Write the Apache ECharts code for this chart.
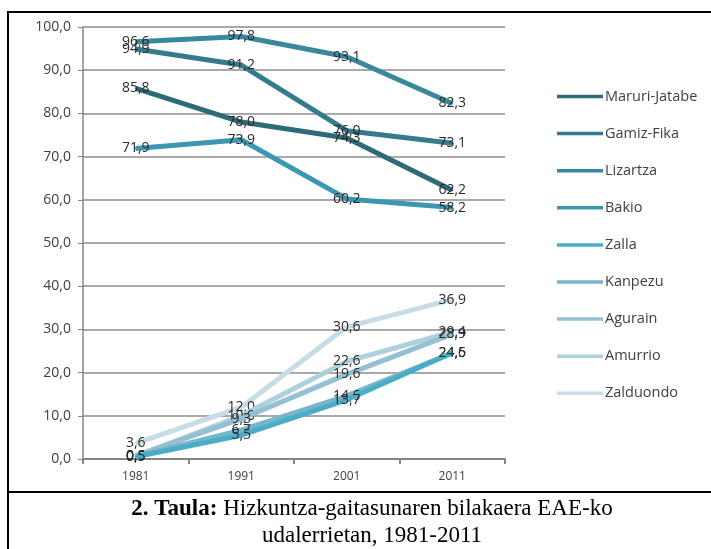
<!DOCTYPE html>
<html>
<head>
<meta charset="utf-8">
<script src="https://cdn.jsdelivr.net/npm/echarts@6/dist/echarts.min.js"></script>
<style>
  html, body { margin: 0; padding: 0; background: #fff; }
  #chart { width: 711px; height: 549px; }
</style>
</head>
<body>
<div id="chart"></div>
<script>
const years = ['1981', '1991', '2001', '2011'];
const seriesNames = ['Maruri-Jatabe', 'Gamiz-Fika', 'Lizartza', 'Bakio', 'Zalla', 'Kanpezu', 'Agurain', 'Amurrio', 'Zalduondo'];
const maruriJatabe = [85.8, 78.0, 74.3, 62.2];
const gamizFika = [94.9, 91.2, 76.0, 73.1];
const lizartza = [96.6, 97.8, 93.1, 82.3];
const bakio = [71.9, 73.9, 60.2, 58.2];
const zalla = [0.5, 5.5, 13.7, 24.6];
const kanpezu = [0.6, 6.7, 14.6, 24.5];
const agurain = [0.8, 9.3, 19.6, 28.9];
const amurrio = [0.6, 10.0, 22.6, 29.4];
const zalduondo = [3.6, 12.0, 30.6, 36.9];
const yTicks = [0, 10, 20, 30, 40, 50, 60, 70, 80, 90, 100];

const seriesValues = [maruriJatabe, gamizFika, lizartza, bakio, zalla, kanpezu, agurain, amurrio, zalduondo];
const colors = ['#2e6b78', '#347b8c', '#3a889d', '#3c97b0', '#4aadc8', '#77b5ca', '#93c1d3', '#aecfdc', '#c7dde6'];

const fmt = v => v.toFixed(1).replace('.', ',');
const labelFont = '"Open Sans", "Noto Sans", sans-serif';

const chart = echarts.init(document.getElementById('chart'));

const series = seriesNames.map((name, i) => ({
    type: 'line',
    name: name,
    data: seriesValues[i],
    symbol: 'circle',
    symbolSize: 2,
    showSymbol: true,
    z: 10 - i,
    lineStyle: { width: 5, color: colors[i] },
    itemStyle: { color: colors[i] },
    label: {
        show: true,
        position: 'inside',
        offset: [0, 2],
        color: '#2b2b2b',
        fontSize: 14,
        fontFamily: labelFont,
        formatter: p => fmt(p.value)
    },
    labelLayout: { hideOverlap: false }
}));

chart.setOption({
    animation: false,
    backgroundColor: '#fff',
    grid: { left: 83, right: 206, top: 27, bottom: 90 },
    legend: {
        orient: 'vertical',
        left: 552,
        top: 84,
        itemWidth: 46,
        itemHeight: 14,
        itemGap: 22.1,
        data: seriesNames.map((n, i) => ({
            name: n,
            icon: 'path://M0,6 L46,6 L46,9.5 L0,9.5 Z',
            itemStyle: { color: colors[i] }
        })),
        textStyle: { color: '#404040', fontSize: 14.5, fontFamily: labelFont, padding: [0, 0, 0, -3] }
    },
    xAxis: {
        type: 'category',
        data: years,
        boundaryGap: true,
        axisLine: { lineStyle: { color: '#868686', width: 2 } },
        axisTick: { show: true, length: 5, lineStyle: { color: '#868686', width: 2 } },
        axisLabel: { color: '#404040', fontSize: 12, fontFamily: labelFont, margin: 12 }
    },
    yAxis: {
        type: 'value',
        min: yTicks[0],
        max: yTicks[yTicks.length - 1],
        interval: 10,
        axisLine: { show: true, lineStyle: { color: '#868686', width: 1.5 } },
        axisTick: { show: true, length: 5, lineStyle: { color: '#868686' } },
        splitLine: { lineStyle: { color: '#8c8c8c', width: 1.5 } },
        axisLabel: { color: '#404040', fontSize: 14, fontFamily: labelFont, margin: 12, formatter: v => fmt(v) }
    },
    graphic: [
        {
            type: 'rect',
            shape: { x: 8, y: 12, width: 740, height: 560 },
            style: { fill: 'none', stroke: '#000', lineWidth: 2 },
            silent: true
        },
        {
            type: 'line',
            shape: { x1: 8, y1: 492, x2: 748, y2: 492 },
            style: { stroke: '#000', lineWidth: 2 },
            silent: true
        },
        {
            type: 'text',
            x: 372,
            y: 509,
            style: {
                text: '{b|2. Taula:} Hizkuntza-gaitasunaren bilakaera EAE-ko',
                align: 'center',
                verticalAlign: 'middle',
                fill: '#000',
                font: '23px "Liberation Serif", "Times New Roman", serif',
                rich: {
                    b: { fontWeight: 'bold', fontSize: 23, fontFamily: '"Liberation Serif", serif', fill: '#000' }
                }
            }
        },
        {
            type: 'text',
            x: 372,
            y: 536,
            style: {
                text: 'udalerrietan, 1981-2011',
                align: 'center',
                verticalAlign: 'middle',
                fill: '#000',
                font: '23px "Liberation Serif", "Times New Roman", serif'
            }
        }
    ],
    series: series
});
</script>
</body>
</html>
